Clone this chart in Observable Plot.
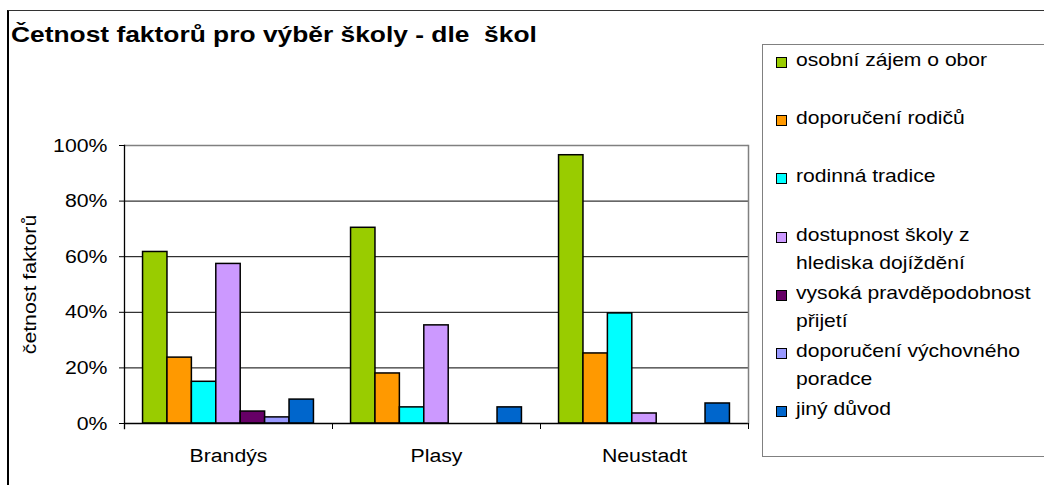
<!DOCTYPE html>
<html>
<head>
<meta charset="utf-8">
<script src="https://cdn.jsdelivr.net/npm/d3@7"></script>
<script src="https://cdn.jsdelivr.net/npm/@observablehq/plot@0.6"></script>
<style>
  html, body { margin: 0; padding: 0; background: #fff; }
  #chart { position: relative; width: 1044px; height: 485px; overflow: hidden; background: #fff;
           font-family: "Liberation Sans", Arial, sans-serif; }
  #border { position: absolute; left: 7px; top: 10px; width: 1100px; height: 600px;
            border-left: 2px solid #000; border-top: 1px solid #333; box-sizing: border-box; }
  #title { position: absolute; left: 11px; top: 23px; font-size: 21.5px; font-weight: bold;
           white-space: pre; color: #000; transform: scaleX(1.226); transform-origin: 0 0; }
  #plot { position: absolute; left: 0; top: 0; }
  #legend { position: absolute; left: 762px; top: 44px; width: 400px; height: 413px;
            border: 1px solid #808080; box-sizing: border-box; background: #fff; }
  .item { position: absolute; left: 33px; width: 222px; font-size: 19px; line-height: 28.3px;
          color: #000; transform: scaleX(1.11); transform-origin: 0 0; }
  .sw { position: absolute; left: 13px; width: 9px; height: 9px; border: 1px solid #000; }
</style>
</head>
<body>
<div id="chart">
  <div id="border"></div>
  <div id="plot"></div>
  <div id="title"></div>
  <div id="legend"></div>
</div>
<script>
const titleText = "Četnost faktorů pro výběr školy - dle  škol";
const yLabel = "četnost faktorů";
const schools = ["Brandýs", "Plasy", "Neustadt"];
const factors = [
  "osobní zájem o obor",
  "doporučení rodičů",
  "rodinná tradice",
  "dostupnost školy z hlediska dojíždění",
  "vysoká pravděpodobnost přijetí",
  "doporučení výchovného poradce",
  "jiný důvod"
];
const colors = ["#99CC00", "#FF9900", "#00FFFF", "#CC99FF", "#660066", "#9999FF", "#0066CC"];
const brandys  = [0.617, 0.237, 0.150, 0.574, 0.043, 0.022, 0.086];
const plasy    = [0.704, 0.180, 0.058, 0.353, 0.000, 0.000, 0.058];
const neustadt = [0.965, 0.252, 0.396, 0.036, 0.000, 0.000, 0.072];
const yTicks = [0, 0.2, 0.4, 0.6, 0.8, 1.0];

const series = [brandys, plasy, neustadt];
const data = [];
schools.forEach((s, i) => factors.forEach((f, j) => {
  data.push({school: s, factor: f, value: series[i][j]});
}));
const barsData = data.filter(d => d.value > 0);

document.getElementById("title").textContent = titleText;

const chart = Plot.plot({
  width: 1044,
  height: 485,
  marginLeft: 123,
  marginRight: 295,
  marginTop: 145,
  marginBottom: 62,
  style: {fontFamily: "'Liberation Sans', Arial, sans-serif", fontSize: "19px", background: "transparent", color: "#000"},
  fx: {domain: schools, padding: 0, label: null},
  x: {domain: factors, paddingInner: 0, paddingOuter: 0.76, round: false, axis: null},
  y: {domain: [0, 1]},
  color: {domain: factors, range: colors},
  marks: [
    Plot.ruleY(yTicks, {stroke: "#000", strokeWidth: 1}),
    Plot.ruleY([1], {stroke: "#808080", strokeWidth: 1.5}),
    Plot.barY(barsData, {fx: "school", x: "factor", y: "value", fill: "factor", stroke: "#000", strokeWidth: 1.5}),
    Plot.ruleY([0], {stroke: "#000", strokeWidth: 1.3}),
    Plot.frame({anchor: "left", facet: "super", stroke: "#000", strokeWidth: 1.3, insetBottom: -5}),
    Plot.frame({anchor: "right", facet: "super", stroke: "#808080", strokeWidth: 1.5}),
    Plot.frame({anchor: "right", stroke: "#000", strokeWidth: 1, insetTop: 278, insetBottom: -5}),
    Plot.axisY({ticks: yTicks, tickSize: 5, tickPadding: 12, stroke: "#000",
      tickFormat: d => Math.round(d * 100) + "%", fontSize: 19,
      label: yLabel, labelAnchor: "center", labelOffset: 102, labelArrow: "none"}),
    Plot.axisFx({anchor: "bottom", tickSize: 0, tickPadding: 25, fontSize: 19, label: null})
  ]
});
// widen the glyphs horizontally, like the reference's stretched text
chart.querySelectorAll("text").forEach(t => {
  const xs = t.getAttribute("x");
  let pre = "";
  if (xs !== null && /^\s*-?[\d.]+\s*$/.test(xs)) {
    pre = `translate(${parseFloat(xs)},0) `;
    t.setAttribute("x", 0);
  }
  const tr = t.getAttribute("transform") || "";
  t.setAttribute("transform", `${tr} ${pre}scale(1.12,1)`.trim());
});
document.getElementById("plot").appendChild(chart);

// legend
const legend = document.getElementById("legend");
const step = 58.2;
factors.forEach((f, j) => {
  const top = 1 + j * step;
  const item = document.createElement("div");
  item.className = "item";
  item.style.top = top + "px";
  item.textContent = f;
  const sw = document.createElement("div");
  sw.className = "sw";
  sw.style.top = (top + 11) + "px";
  sw.style.background = colors[j];
  legend.appendChild(sw);
  legend.appendChild(item);
});
</script>
</body>
</html>
